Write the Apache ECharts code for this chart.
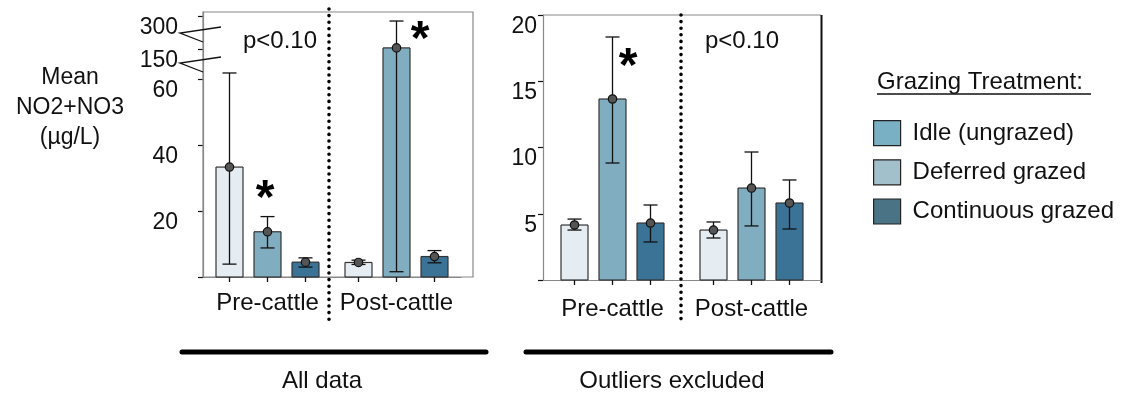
<!DOCTYPE html>
<html><head><meta charset="utf-8">
<script src="https://cdn.jsdelivr.net/npm/echarts@6/dist/echarts.min.js"></script>
<style>html,body{margin:0;padding:0;background:#fff}#c{width:1131px;height:394px}</style>
</head><body><div id="c"></div>
<script>
// ---------- DATA ----------
const periods = ['Pre-cattle', 'Post-cattle'];
const treatments = ['Idle (ungrazed)', 'Deferred grazed', 'Continuous grazed'];
// "All data" panel (mean, lower error, upper error) for [Pre, Post]
const allIdleMean = [33.3, 4.4];
const allIdleLow  = [3.9, 3.8];
const allIdleHigh = [61.8, 5.1];
const allDefMean  = [13.7, 155];
const allDefLow   = [8.8, 1.6];
const allDefHigh  = [18.3, 277];
const allContMean = [4.5, 6.2];
const allContLow  = [3.0, 4.3];
const allContHigh = [5.8, 8.0];
// "Outliers excluded" panel
const exIdleMean = [4.15, 3.77];
const exIdleLow  = [3.77, 3.17];
const exIdleHigh = [4.6, 4.38];
const exDefMean  = [13.66, 6.94];
const exDefLow   = [8.83, 4.08];
const exDefHigh  = [18.34, 9.66];
const exContMean = [4.3, 5.81];
const exContLow  = [2.87, 3.85];
const exContHigh = [5.66, 7.55];
// axis ranges / tick labels (left axis is broken between 62.4 and 150)
const leftLowMax = 62.4;
const leftHighMin = 50, leftHighMax = 318;
const leftLowTicks = [0, 20, 40, 60];
const leftLowLabels = [20, 40, 60];
const leftHighLabels = [150, 300];
const rightTicks = [0, 5, 10, 15, 20];
const rightLabels = [5, 10, 15, 20];

// ---------- STYLE ----------
const FONT = '"Liberation Sans", Arial, sans-serif';
const barFills = ['#e5edf3', '#80adc0', '#3a7396'];
const legendFills = ['#79b0c4', '#a2c0cb', '#4a7386'];
const BAR_W = 27, BAR_STEP = 38;

function rows(mean, low, high) {
  return periods.map((p, i) => [i, mean[i], low[i], high[i]]);
}
const allSets = [rows(allIdleMean, allIdleLow, allIdleHigh), rows(allDefMean, allDefLow, allDefHigh), rows(allContMean, allContLow, allContHigh)];
const exSets = [rows(exIdleMean, exIdleLow, exIdleHigh), rows(exDefMean, exDefLow, exDefHigh), rows(exContMean, exContLow, exContHigh)];

// vLo / vHi: value window this grid shows (values outside are pinned to the grid edge)
function makeRender(k, showTicks, vLo, vHi) {
  return function (params, api) {
    const cs = params.coordSys;
    const top = cs.y, bottom = cs.y + cs.height;
    const cat = api.value(0);
    const cx = api.coord([cat, 0])[0] + (k - 1) * BAR_STEP;
    const yOf = v => v < vLo ? bottom : (v > vHi ? top : api.coord([cat, v])[1]);
    const inR = v => v >= vLo && v <= vHi;
    const mean = api.value(1), lo = api.value(2), hi = api.value(3);
    const ch = [];
    const x0 = cx - BAR_W / 2, x1 = cx + BAR_W / 2;
    const lineStyle = { stroke: '#333', lineWidth: 1.2, fill: null };
    if (mean >= vLo) {
      const bt = yOf(mean), bb = yOf(0);
      ch.push({ type: 'rect', shape: { x: x0, y: bt, width: BAR_W, height: bb - bt }, style: { fill: barFills[k] } });
      ch.push({ type: 'line', shape: { x1: x0, y1: bt, x2: x0, y2: bb }, style: lineStyle });
      ch.push({ type: 'line', shape: { x1: x1, y1: bt, x2: x1, y2: bb }, style: lineStyle });
      if (inR(mean)) ch.push({ type: 'line', shape: { x1: x0, y1: bt, x2: x1, y2: bt }, style: lineStyle });
      if (inR(0)) ch.push({ type: 'line', shape: { x1: x0, y1: bb, x2: x1, y2: bb }, style: lineStyle });
    }
    const eStyle = { stroke: '#111', lineWidth: 1.3 };
    if (!((lo > vHi && hi > vHi) || (lo < vLo && hi < vLo))) {
      ch.push({ type: 'line', shape: { x1: cx, y1: yOf(lo), x2: cx, y2: yOf(hi) }, style: eStyle });
      if (inR(hi)) ch.push({ type: 'line', shape: { x1: cx - 7, y1: yOf(hi), x2: cx + 7, y2: yOf(hi) }, style: eStyle });
      if (inR(lo)) ch.push({ type: 'line', shape: { x1: cx - 7, y1: yOf(lo), x2: cx + 7, y2: yOf(lo) }, style: eStyle });
    }
    if (inR(mean)) {
      ch.push({ type: 'circle', shape: { cx: cx, cy: yOf(mean), r: 4.2 }, style: { fill: '#555', stroke: '#111', lineWidth: 1.2 } });
    }
    if (showTicks) {
      ch.push({ type: 'line', shape: { x1: cx, y1: bottom, x2: cx, y2: bottom + 5 }, style: { stroke: '#111', lineWidth: 1.3 } });
    }
    return { type: 'group', children: ch };
  };
}

const series = [];
[[0, allSets, false, leftLowMax, leftHighMax], [1, allSets, true, 0, leftLowMax], [2, exSets, true, 0, 20]].forEach(([g, sets, ticks, vLo, vHi]) => {
  sets.forEach((data, k) => {
    series.push({
      type: 'custom', name: treatments[k], xAxisIndex: g, yAxisIndex: g,
      renderItem: makeRender(k, ticks, vLo, vHi), data: data,
      encode: { x: 0, y: [1, 2, 3] }, itemStyle: { color: barFills[k] }, clip: false, silent: true
    });
  });
});

const yLabel = (margin) => ({ fontSize: 23, color: '#111', fontFamily: FONT, verticalAlign: 'top', margin: margin });
const yTick = { show: true, length: 5, lineStyle: { color: '#111', width: 1.2 } };
const yLine = { show: true, lineStyle: { color: '#888', width: 1.2 } };
const xLabel = (margin) => ({ fontSize: 24, color: '#111', fontFamily: FONT, margin: margin, interval: 0 });

const option = {
  animation: false,
  textStyle: { fontFamily: FONT },
  grid: [
    { left: 203, top: 12, width: 258, height: 59 },
    { left: 203, top: 71, width: 258, height: 206 },
    { left: 543, top: 15, width: 278, height: 265 }
  ],
  xAxis: [
    { type: 'category', gridIndex: 0, data: periods, show: false },
    { type: 'category', gridIndex: 1, data: periods, axisLine: { lineStyle: { color: '#888', width: 1.2 } }, axisTick: { show: false }, axisLabel: xLabel(14) },
    { type: 'category', gridIndex: 2, data: periods, axisLine: { lineStyle: { color: '#888', width: 1.2 } }, axisTick: { show: false }, axisLabel: xLabel(17) }
  ],
  yAxis: [
    { type: 'value', gridIndex: 0, min: leftHighMin, max: leftHighMax, splitLine: { show: false }, axisLine: yLine,
      axisTick: Object.assign({ customValues: leftHighLabels }, yTick),
      axisLabel: Object.assign({ customValues: leftHighLabels }, yLabel(25)) },
    { type: 'value', gridIndex: 1, min: 0, max: leftLowMax, splitLine: { show: false }, axisLine: yLine,
      axisTick: Object.assign({ customValues: leftLowTicks }, yTick),
      axisLabel: Object.assign({ customValues: leftLowLabels }, yLabel(25)) },
    { type: 'value', gridIndex: 2, min: 0, max: 20, splitLine: { show: false }, axisLine: yLine,
      axisTick: Object.assign({ customValues: rightTicks }, yTick),
      axisLabel: Object.assign({ customValues: rightLabels }, yLabel(6)) }
  ],
  legend: {
    orient: 'vertical', left: 868, top: 115, itemWidth: 27, itemHeight: 25, itemGap: 13,
    selectedMode: false,
    textStyle: { fontSize: 24, color: '#111', fontFamily: FONT, padding: [0, 0, 0, 7] },
    data: treatments.map((t, i) => ({ name: t, icon: 'rect', itemStyle: { color: legendFills[i], borderColor: '#222', borderWidth: 1.2 } }))
  },
  graphic: [
    // left panel frame
    { type: 'rect', shape: { x: 203, y: 12, width: 270, height: 265 }, style: { fill: null, stroke: '#888', lineWidth: 1.2 }, z: 1 },
    // right panel frame pieces
    { type: 'line', shape: { x1: 543, y1: 15, x2: 821, y2: 15 }, style: { stroke: '#888', lineWidth: 1.2 } },
    { type: 'line', shape: { x1: 821.5, y1: 15, x2: 821.5, y2: 283 }, style: { stroke: '#111', lineWidth: 2 } },
    // dotted dividers
    { type: 'line', shape: { x1: 329, y1: 9, x2: 329, y2: 322 }, style: { stroke: '#000', lineWidth: 3.6, lineDash: [0, 6.6], lineCap: 'round' }, z: 20 },
    { type: 'line', shape: { x1: 681, y1: 15, x2: 681, y2: 325 }, style: { stroke: '#000', lineWidth: 3.6, lineDash: [0, 6.6], lineCap: 'round' }, z: 20 },
    // axis break marks
    { type: 'polyline', shape: { points: [[221, 27], [180, 33], [203, 42]] }, style: { stroke: '#111', lineWidth: 1.3, fill: null }, z: 20 },
    { type: 'polyline', shape: { points: [[221, 57], [180, 63], [203, 72]] }, style: { stroke: '#111', lineWidth: 1.3, fill: null }, z: 20 },
    // annotations
    { type: 'text', x: 280, y: 41, style: { text: 'p<0.10', fontSize: 24, fontFamily: FONT, fill: '#111', align: 'center', verticalAlign: 'middle' } },
    { type: 'text', x: 742, y: 41, style: { text: 'p<0.10', fontSize: 24, fontFamily: FONT, fill: '#111', align: 'center', verticalAlign: 'middle' } },
    { type: 'text', x: 265, y: 200, style: { text: '*', fontSize: 48, fontWeight: 'bold', fontFamily: FONT, fill: '#000', align: 'center', verticalAlign: 'middle' } },
    { type: 'text', x: 420, y: 41, style: { text: '*', fontSize: 48, fontWeight: 'bold', fontFamily: FONT, fill: '#000', align: 'center', verticalAlign: 'middle' } },
    { type: 'text', x: 628, y: 68, style: { text: '*', fontSize: 48, fontWeight: 'bold', fontFamily: FONT, fill: '#000', align: 'center', verticalAlign: 'middle' } },
    // y axis title
    { type: 'text', x: 70, y: 108, style: { text: 'Mean\nNO2+NO3\n(µg/L)', fontSize: 23, lineHeight: 30, fontFamily: FONT, fill: '#111', align: 'center', verticalAlign: 'middle' } },
    // legend title
    { type: 'text', x: 877, y: 82, style: { text: 'Grazing Treatment:', fontSize: 24, fontFamily: FONT, fill: '#111', align: 'left', verticalAlign: 'middle' } },
    { type: 'line', shape: { x1: 877, y1: 94, x2: 1091, y2: 94 }, style: { stroke: '#111', lineWidth: 1.5 } },
    // panel captions
    { type: 'line', shape: { x1: 182, y1: 352, x2: 486, y2: 352 }, style: { stroke: '#000', lineWidth: 5, lineCap: 'round' } },
    { type: 'line', shape: { x1: 526, y1: 352, x2: 831, y2: 352 }, style: { stroke: '#000', lineWidth: 5, lineCap: 'round' } },
    { type: 'text', x: 322, y: 381, style: { text: 'All data', fontSize: 24, fontFamily: FONT, fill: '#111', align: 'center', verticalAlign: 'middle' } },
    { type: 'text', x: 672, y: 381, style: { text: 'Outliers excluded', fontSize: 24, fontFamily: FONT, fill: '#111', align: 'center', verticalAlign: 'middle' } }
  ],
  series: series
};

const chart = echarts.init(document.getElementById('c'), null, { renderer: 'canvas' });
chart.setOption(option);
</script>
</body></html>
